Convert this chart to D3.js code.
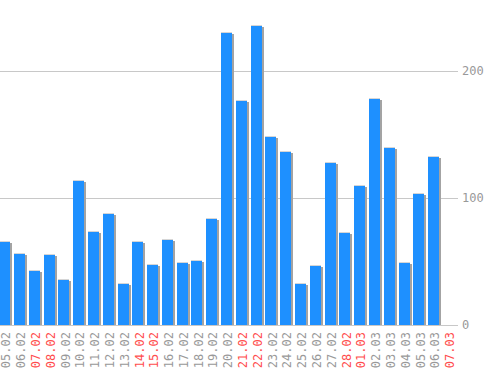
<!DOCTYPE html>
<html><head><meta charset="utf-8">
<script src="https://cdn.jsdelivr.net/npm/d3@7"></script>
<style>
html,body{margin:0;padding:0;background:#fff;}
svg{display:block;}
</style></head>
<body>
<svg id="chart" width="498" height="370"></svg>
<script>
const labels = ["05.02","06.02","07.02","08.02","09.02","10.02","11.02","12.02","13.02","14.02","15.02","16.02","17.02","18.02","19.02","20.02","21.02","22.02","23.02","24.02","25.02","26.02","27.02","28.02","01.03","02.03","03.03","04.03","05.03","06.03","07.03"];
const values = [66,57,43,56,36,114,74,88,33,66,48,68,50,51,84,231,177,236,149,137,33,47,128,73,110,179,140,50,104,133,0];
const weekend = ["07.02","08.02","14.02","15.02","21.02","22.02","28.02","01.03","07.03"];
const yTicks = [0,100,200];

const svg = d3.select("#chart");
const y = d3.scaleLinear().domain([0,200]).range([325,71]);
const x = d3.scaleBand().domain(labels).range([-4.59,457.7]).padding(0.256);

// gridlines
svg.append("g").selectAll("line").data(yTicks).join("line")
  .attr("x1",0).attr("x2",458)
  .attr("y1",d=>Math.round(y(d))+0.5).attr("y2",d=>Math.round(y(d))+0.5)
  .attr("stroke","#c8c8c8").attr("stroke-width",1);

// y labels
svg.append("g").selectAll("text").data(yTicks).join("text")
  .attr("x",462).attr("y",d=>y(d)).attr("dy","0.35em")
  .attr("font-family","'DejaVu Sans Mono', monospace").attr("font-size",12)
  .attr("fill","#999").text(d=>d);

const data = labels.map((l,i)=>({l, v:values[i]})).filter(d=>d.v>0);
const bw = x.bandwidth();
const g = svg.append("g");
// shadows
g.selectAll("rect.sh").data(data).join("rect").attr("class","sh")
  .attr("x",d=>Math.round(x(d.l))+2).attr("width",Math.round(bw))
  .attr("y",d=>Math.round(y(d.v))+2).attr("height",d=>325-Math.round(y(d.v))-2)
  .attr("fill","#a3a3a3");
// top highlight
g.selectAll("rect.tp").data(data).join("rect").attr("class","tp")
  .attr("x",d=>Math.round(x(d.l))).attr("width",Math.round(bw))
  .attr("y",d=>Math.round(y(d.v))).attr("height",1)
  .attr("fill","#d6d6d6");
// bars
g.selectAll("rect.b").data(data).join("rect").attr("class","b")
  .attr("x",d=>Math.round(x(d.l))).attr("width",Math.round(bw))
  .attr("y",d=>Math.round(y(d.v))+1).attr("height",d=>325-Math.round(y(d.v))-1)
  .attr("fill","#1e90ff");

// x labels
svg.append("g").selectAll("text").data(labels).join("text")
  .attr("transform",d=>`translate(${x(d)+7},332) rotate(-90)`)
  .attr("text-anchor","end").attr("dy","0.35em")
  .attr("font-family","'DejaVu Sans Mono', monospace").attr("font-size",12)
  .attr("fill",d=>weekend.includes(d)?"#ff4d4d":"#999")
  .text(d=>d);
</script>
</body></html>
